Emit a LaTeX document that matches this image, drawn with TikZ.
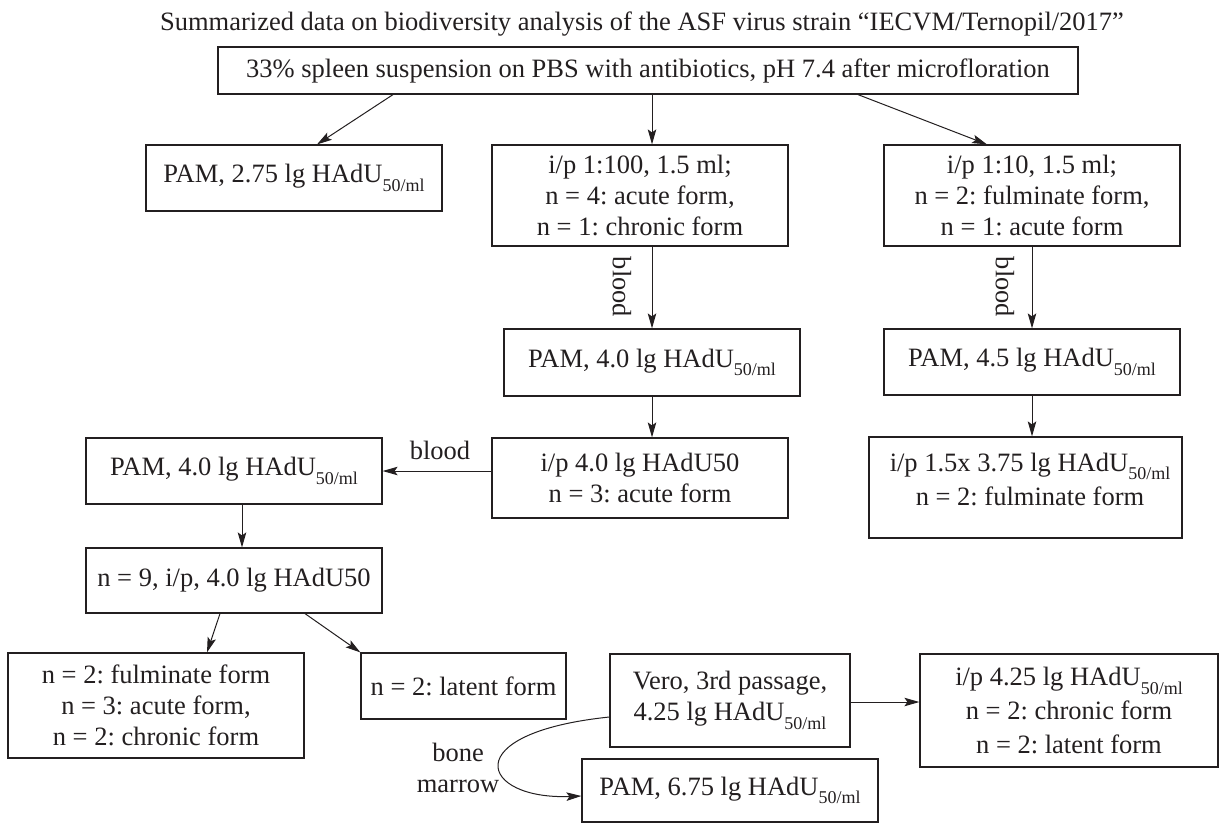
\documentclass[tikz,border=0pt]{standalone}
\usepackage{fontspec}
\setmainfont{Liberation Serif}
\usetikzlibrary{arrows.meta}
\definecolor{ink}{HTML}{231F20}
\newcommand{\lowsub}[1]{\raisebox{-8.5pt}{\fontsize{18}{18}\selectfont #1}}
\frenchspacing
\begin{document}
\begin{tikzpicture}[x=1pt,y=-1pt,
  box/.style={draw=ink, line width=1.2pt, inner sep=0pt, align=center, text=ink,
              font=\fontsize{26.5}{31}\selectfont},
  lab/.style={text=ink, inner sep=0pt, align=center, font=\fontsize{26.5}{31}\selectfont},
  arr/.style={draw=ink, line width=1pt, -{Stealth[length=15pt,width=8.5pt,inset=3pt]}}]
\useasboundingbox (0,0) rectangle (1220,823);

\node[lab] (title) at (642,24) {Summarized data on biodiversity analysis of the ASF virus strain “IECVM/Ternopil/2017”};

\node[box, minimum width=860pt, minimum height=47pt] (top) at (648,70.5)
  {33\% spleen suspension on PBS with antibiotics, pH 7.4 after microfloration};

\node[box, minimum width=296pt, minimum height=66pt] (pam1) at (294,178)
  {PAM, 2.75 lg HAdU\lowsub{50/ml}};
\node[box, minimum width=296pt, minimum height=101pt] (ip100) at (640,195.5)
  {i/p 1:100, 1.5 ml;\\ n = 4: acute form,\\ n = 1: chronic form};
\node[box, minimum width=296pt, minimum height=101pt] (ip10) at (1032,195.5)
  {i/p 1:10, 1.5 ml;\\ n = 2: fulminate form,\\ n = 1: acute form};

\node[box, minimum width=296pt, minimum height=67pt] (pam2) at (652,362.5)
  {PAM, 4.0 lg HAdU\lowsub{50/ml}};
\node[box, minimum width=296pt, minimum height=66pt] (pam3) at (1032,362)
  {PAM, 4.5 lg HAdU\lowsub{50/ml}};

\node[box, minimum width=296pt, minimum height=80pt] (ip4) at (640,478)
  {i/p 4.0 lg HAdU50\\ n = 3: acute form};
\node[box, minimum width=313pt, minimum height=101pt] (ip15) at (1025.5,487.5) {};
\node[lab, font=\fontsize{26.5}{34}\selectfont] (ip15t) at (1030,479)
  {i/p 1.5x 3.75 lg HAdU\lowsub{50/ml}\\ n = 2: fulminate form};

\node[box, minimum width=296pt, minimum height=66pt] (pamL) at (234,471)
  {PAM, 4.0 lg HAdU\lowsub{50/ml}};
\node[box, minimum width=296pt, minimum height=65pt] (n9) at (234,580.5)
  {n = 9, i/p, 4.0 lg HAdU50};

\node[box, minimum width=296pt, minimum height=105pt] (ful) at (156,705.5)
  {n = 2: fulminate form\\ n = 3: acute form,\\ n = 2: chronic form};
\node[box, minimum width=205pt, minimum height=66pt] (lat) at (463.5,686)
  {n = 2: latent form};

\node[box, minimum width=240pt, minimum height=93pt] (vero) at (730,700.5)
  {Vero, 3rd passage,\\ 4.25 lg HAdU\lowsub{50/ml}};
\node[box, minimum width=298pt, minimum height=113pt, font=\fontsize{26.5}{34}\selectfont] (ip425) at (1069,710.5)
  {i/p 4.25 lg HAdU\lowsub{50/ml}\\ n = 2: chronic form\\ n = 2: latent form};
\node[box, minimum width=296pt, minimum height=63pt] (pam675) at (730,790.5)
  {PAM, 6.75 lg HAdU\lowsub{50/ml}};

% connectors
\draw[arr] ([xshift=-255pt]top.south) -- ([xshift=23pt]pam1.north);
\draw[arr] ([xshift=4pt]top.south) -- ([xshift=12pt]ip100.north);
\draw[arr] ([xshift=210pt]top.south) -- ([xshift=-45pt]ip10.north);

\draw[arr] ([xshift=12pt]ip100.south) -- (pam2.north);
\node[lab, rotate=-90] (blood1) at (622,287) {blood};
\draw[arr] (ip10.south) -- (pam3.north);
\node[lab, rotate=-90] (blood2) at (1005,287) {blood};

\draw[arr] (pam2.south) -- ([xshift=12pt]ip4.north);
\draw[arr] (pam3.south) -- ([xshift=6.5pt]ip15.north);

\draw[arr] ([yshift=7pt]ip4.west) -- (pamL.east);
\node[lab] (blood3) at (440,450) {blood};

\draw[arr] ([xshift=8pt]pamL.south) -- ([xshift=8pt]n9.north);
\draw[arr] ([xshift=-14pt]n9.south) -- ([xshift=51pt]ful.north);
\draw[arr] ([xshift=71pt]n9.south) -- (lat.north west);

\draw[arr] ([yshift=-1.5pt]vero.east) -- ([yshift=8.5pt]ip425.west);
\draw[arr] ([yshift=-16.5pt]vero.west) .. controls (455,733) and (480,800) .. ([yshift=-5.5pt]pam675.west);
\node[lab] (bm) at (458,768) {bone\\ marrow};
\end{tikzpicture}
\end{document}
